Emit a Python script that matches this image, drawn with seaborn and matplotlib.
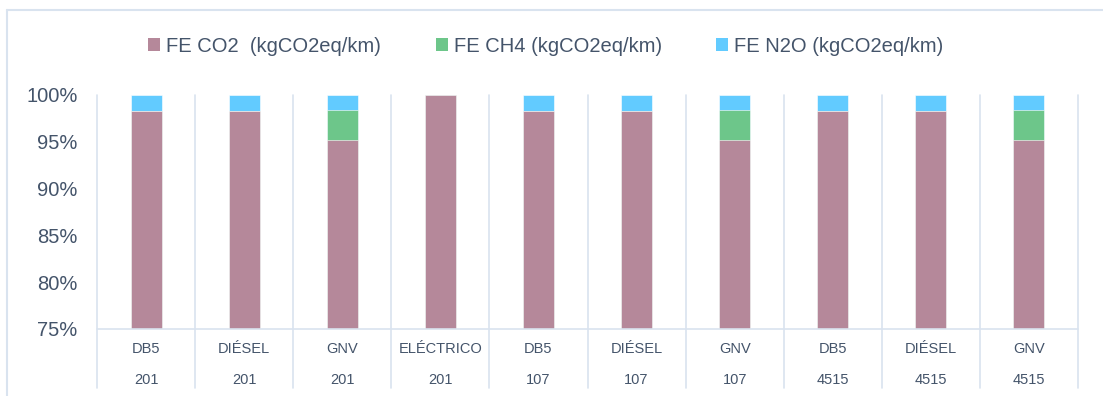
import matplotlib
matplotlib.use("Agg")
import matplotlib.pyplot as plt
from matplotlib.lines import Line2D
from matplotlib.patches import Patch
from matplotlib.ticker import PercentFormatter
import numpy as np
import pandas as pd
import seaborn as sns

# Vehicle fuel type and route for each column
fuels = ["DB5", "DIÉSEL", "GNV", "ELÉCTRICO", "DB5", "DIÉSEL", "GNV", "DB5", "DIÉSEL", "GNV"]
routes = ["201", "201", "201", "201", "107", "107", "107", "4515", "4515", "4515"]

# Share of each emission factor in the total (%)
fe_co2 = [98.30, 98.30, 95.15, 100.0, 98.30, 98.30, 95.15, 98.30, 98.30, 95.15]
fe_ch4 = [0.03, 0.03, 3.30, 0.0, 0.03, 0.03, 3.30, 0.03, 0.03, 3.30]
fe_n2o = [1.67, 1.67, 1.55, 0.0, 1.67, 1.67, 1.55, 1.67, 1.67, 1.55]

series_names = ["FE CO2  (kgCO2eq/km)", "FE CH4 (kgCO2eq/km)", "FE N2O (kgCO2eq/km)"]
series_colors = ["#b5889a", "#6dc68a", "#62cbff"]

TEXT = "#44546a"
GRID = "#d9e3ef"

keys = [f"{f}|{r}" for f, r in zip(fuels, routes)]
co2 = np.array(fe_co2)
ch4 = np.array(fe_ch4)
n2o = np.array(fe_n2o)
df = pd.DataFrame({
    "key": keys,
    "top_n2o": co2 + ch4 + n2o,
    "top_ch4": co2 + ch4,
    "top_co2": co2,
})

sns.set_theme(style="white")
plt.rcParams["font.family"] = ["Liberation Sans", "DejaVu Sans"]

fig = plt.figure(figsize=(11.03, 3.96), dpi=100)
ax = fig.add_axes([97 / 1103, 67 / 396, 981 / 1103, 234 / 396])

# Stacked bars: draw cumulative totals from the top segment down
for col, color in zip(["top_n2o", "top_ch4", "top_co2"], series_colors[::-1]):
    sns.barplot(data=df, x="key", y=col, order=keys, color=color, width=0.316,
                edgecolor="white", linewidth=0.4, saturation=1, ax=ax)

ax.set_ylim(75, 100)
ax.set_xlim(-0.5, len(keys) - 0.5)
ax.set_yticks([75, 80, 85, 90, 95, 100])
ax.yaxis.set_major_formatter(PercentFormatter(xmax=100, decimals=0))
ax.set_xlabel("")
ax.set_ylabel("")
for s in ax.spines.values():
    s.set_visible(False)
ax.tick_params(axis="y", length=0, pad=14, labelsize=14.5, labelcolor=TEXT)
ax.tick_params(axis="x", length=0, pad=9.5, labelsize=10.5, labelcolor=TEXT)
ax.set_xticks(range(len(keys)))
ax.set_xticklabels([f"{f}\n{r}" for f, r in zip(fuels, routes)], linespacing=2.55)

# Category separators running through the label area, and the baseline
xt = ax.get_xaxis_transform()
for b in np.arange(-0.5, len(keys), 1.0):
    ax.add_line(Line2D([b, b], [1.0, -0.252], transform=xt, color=GRID, lw=1.2, clip_on=False))
ax.add_line(Line2D([-0.5, len(keys) - 0.5], [0, 0], transform=xt, color=GRID, lw=1.2, clip_on=False))

# Legend across the top
handles = [Patch(facecolor=c, edgecolor="none") for c in series_colors]
fig.legend(handles, series_names, loc="center", bbox_to_anchor=(546 / 1103, 1 - 46 / 396),
           ncol=3, frameon=False, fontsize=14.5, labelcolor=TEXT,
           handlelength=0.6, handleheight=0.6, handletextpad=0.3, columnspacing=2.7)

# Chart frame (left and top edges)
fig.add_artist(Line2D([7 / 1103, 7 / 1103], [0, 1 - 10 / 396], transform=fig.transFigure, color=GRID, lw=1.5))
fig.add_artist(Line2D([7 / 1103, 1], [1 - 10 / 396, 1 - 10 / 396], transform=fig.transFigure, color=GRID, lw=1.5))

fig.savefig("out.png", dpi=100, facecolor="white")
